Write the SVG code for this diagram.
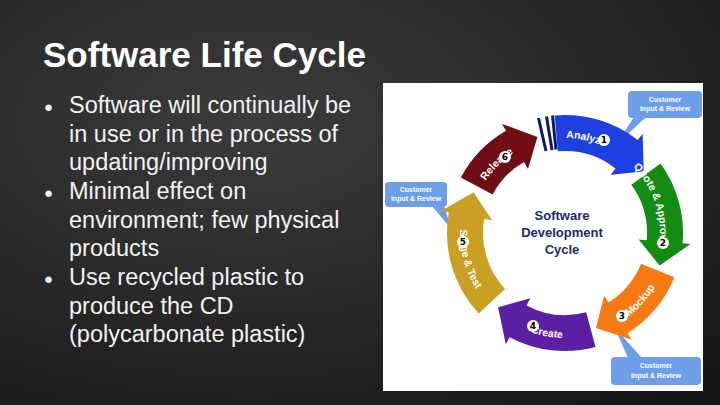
<svg xmlns="http://www.w3.org/2000/svg" width="720" height="405" viewBox="0 0 720 405">
<defs>
<radialGradient id="bg" cx="0.35" cy="0.3" r="0.9"><stop offset="0" stop-color="#3c3c3c"/><stop offset="1" stop-color="#161616"/></radialGradient>
<path id="cw" d="M470 233 A95 95 0 1 1 660 233 A95 95 0 1 1 470 233"/>
<path id="ccw" d="M460 233 A105 105 0 1 0 670 233 A105 105 0 1 0 460 233"/>
<style>
.t{font-family:"Liberation Sans",Arial,sans-serif;fill:#f2f2f2;font-size:23.5px}
.n{font-family:"DejaVu Sans",sans-serif;font-weight:bold;font-size:9px;fill:#000;text-anchor:middle}
.lab{font-family:"Liberation Sans",Arial,sans-serif;font-weight:bold;font-size:10.5px;fill:#fff;text-anchor:middle}
.cb{fill:#6f9ee8}
.ct{font-family:"Liberation Sans",Arial,sans-serif;font-weight:bold;font-size:7px;fill:#fff;text-anchor:middle}
.cc{font-family:"Liberation Sans",Arial,sans-serif;font-weight:bold;font-size:13px;fill:#1b2a6e;text-anchor:middle}
</style>
</defs>
<rect width="720" height="405" fill="url(#bg)"/>
<text x="43" y="67" font-family="Liberation Sans,Arial,sans-serif" font-weight="bold" font-size="35" fill="#fff">Software Life Cycle</text>
<g id="bullets" class="t">
<text x="44" y="112" font-size="15">●</text><text x="69" y="113">Software will continually be</text>
<text x="69" y="142">in use or in the process of</text>
<text x="69" y="170">updating/improving</text>
<text x="44" y="198" font-size="15">●</text><text x="69" y="199">Minimal effect on</text>
<text x="69" y="228">environment; few physical</text>
<text x="69" y="256">products</text>
<text x="44" y="284" font-size="15">●</text><text x="69" y="285">Use recycled plastic to</text>
<text x="69" y="314">produce the CD</text>
<text x="69" y="342">(polycarbonate plastic)</text>
</g>
<rect id="panel" x="383" y="83" width="320" height="308" fill="#fff"/>
<g id="callouts">
<path class="cb" d="M634 117 L615 146 L646 117 Z"/><rect class="cb" x="628" y="91" width="74" height="27" rx="4"/>
<text class="ct" x="665" y="102">Customer</text><text class="ct" x="665" y="111">Input &amp; Review</text>
<path class="cb" d="M432 206 L452 230 L444 206 Z"/><rect class="cb" x="385" y="182" width="62" height="25" rx="4"/>
<text class="ct" x="416" y="192">Customer</text><text class="ct" x="416" y="201">Input &amp; Review</text>
<path class="cb" d="M628 358 L615 328 L642 358 Z"/><rect class="cb" x="611" y="357" width="90" height="28" rx="4"/>
<text class="ct" x="656" y="368">Customer</text><text class="ct" x="656" y="378">Input &amp; Review</text>
</g>
<g id="connectors" stroke="#0c1a6b" stroke-width="3">
<line x1="546" y1="151" x2="538.5" y2="118"/><line x1="552" y1="150" x2="546.5" y2="116.5"/><line x1="556" y1="149.5" x2="552.5" y2="115.5"/>
</g>
<g id="analyze"><path fill="#1f40e0" d="M554.7 115.4 A118 118 0 0 1 637.7 140 L642.6 133.7 L643.8 171.4 L610.6 174.7 L615.5 168.4 A82 82 0 0 0 557.9 151.3 Z"/></g>
<g id="quote"><path fill="#148c14" d="M660.5 163.6 A118 118 0 0 1 682.6 243.3 L690.5 244 L659.6 265.6 L638.7 239.5 L646.7 240.2 A82 82 0 0 0 631.3 184.8 Z"/></g>
<g id="mockup"><path fill="#f57a12" d="M674.4 277.2 A118 118 0 0 1 627.5 333.1 L631.8 339.8 L595.9 328.1 L604.2 295.8 L608.5 302.5 A82 82 0 0 0 641 263.7 Z"/></g>
<g id="create"><path fill="#5b1fa3" d="M595.5 347 A118 118 0 0 1 509.6 337.2 L505.8 344.2 L498.1 307.3 L530.3 298.3 L526.5 305.4 A82 82 0 0 0 586.2 312.2 Z"/></g>
<g id="stage"><path fill="#c9a024" d="M478.7 313.5 A118 118 0 0 1 448.8 212.5 L440.9 211.1 L473.6 192.3 L492.1 220.2 L484.2 218.8 A82 82 0 0 0 505 288.9 Z"/></g>
<g id="release"><path fill="#700c14" d="M460.8 177.6 A118 118 0 0 1 506 130.8 L502 123.9 L537.4 136.9 L528 168.9 L524 162 A82 82 0 0 0 492.6 194.5 Z"/></g>
<g id="labels">
<text class="lab"><textPath href="#cw" startOffset="170">Analyze</textPath></text>
<text class="lab"><textPath href="#cw" startOffset="268">Quote &amp; Approve</textPath></text>
<text class="lab"><textPath href="#cw" startOffset="75">Release</textPath></text>
<text class="lab"><textPath href="#ccw" startOffset="28">Stage &amp; Test</textPath></text>
<text class="lab"><textPath href="#ccw" startOffset="146">Create</textPath></text>
<text class="lab"><textPath href="#ccw" startOffset="253">Mockup</textPath></text>
<circle cx="604" cy="140" r="6" fill="#fff"/><text class="n" x="604" y="143">1</text>
<circle cx="663" cy="243" r="6" fill="#fff"/><text class="n" x="663" y="246">2</text>
<circle cx="622" cy="316" r="6" fill="#fff"/><text class="n" x="622" y="319">3</text>
<circle cx="533" cy="326" r="6" fill="#fff"/><text class="n" x="533" y="329">4</text>
<circle cx="463" cy="242" r="6" fill="#fff"/><text class="n" x="463" y="245">5</text>
<circle cx="505" cy="157" r="6" fill="#fff"/><text class="n" x="505" y="160">6</text>
</g>
<g id="center"><text class="cc" x="562" y="220">Software</text><text class="cc" x="562" y="237">Development</text><text class="cc" x="562" y="254">Cycle</text></g>
</svg>
